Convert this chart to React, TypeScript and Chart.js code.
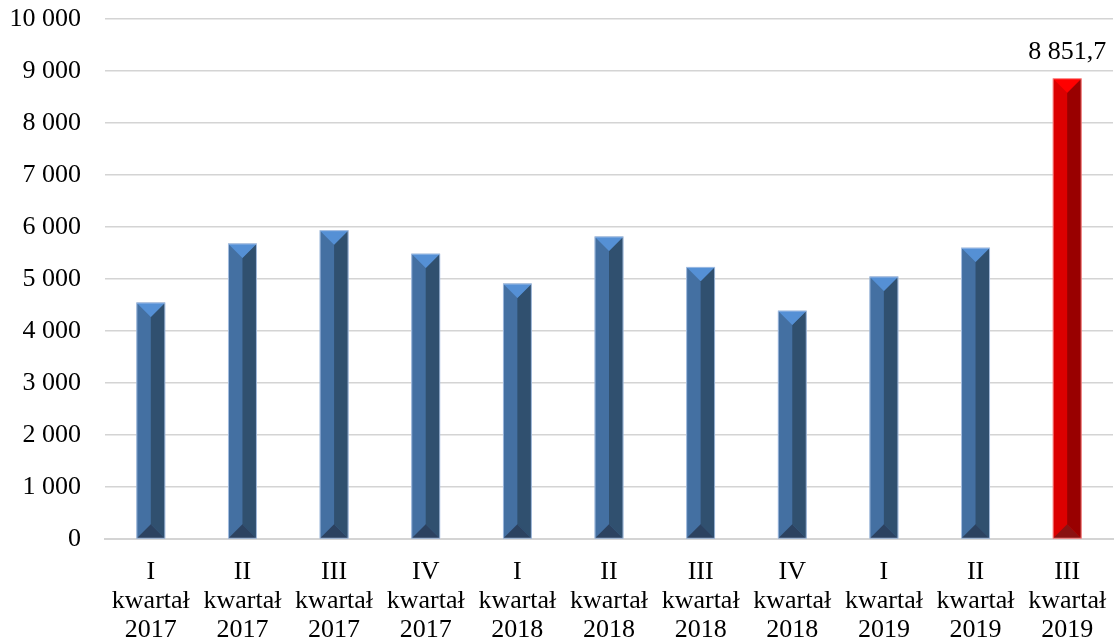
import React, { useEffect, useRef } from "react";
import { Chart, registerables } from "chart.js";

Chart.register(...registerables);

const quarters = ["I", "II", "III", "IV", "I", "II", "III", "IV", "I", "II", "III"];
const years = ["2017", "2017", "2017", "2017", "2018", "2018", "2018", "2018", "2019", "2019", "2019"];
const values = [4540, 5675, 5930, 5480, 4905, 5810, 5225, 4385, 5040, 5595, 8851.7];
const highlightIndex = 10;
const highlightLabel = "8 851,7";
const yTicks = [0, 1000, 2000, 3000, 4000, 5000, 6000, 7000, 8000, 9000, 10000];

const FONT = "'Liberation Serif', 'Times New Roman', serif";

const fmt = (v: number) => String(Math.round(v)).replace(/\B(?=(\d{3})+(?!\d))/g, " ");

const bevelPlugin = {
  id: "bevel",
  afterDatasetsDraw(chart: any) {
    const ctx = chart.ctx;
    const meta = chart.getDatasetMeta(0);
    meta.data.forEach((bar: any, i: number) => {
      const { x, y, base, width } = bar.getProps(["x", "y", "base", "width"], true);
      const l = x - width / 2;
      const r = x + width / 2;
      const d = width / 2;
      const red = i === highlightIndex;
      const cLeft = red ? "#dc0000" : "#4470a2";
      const cRight = red ? "#990000" : "#30506f";
      const cTop = red ? "#ff0000" : "#5590d5";
      const cBottom = red ? "#8a1212" : "#2c4260";
      const poly = (pts: number[][], color: string) => {
        ctx.beginPath();
        ctx.moveTo(pts[0][0], pts[0][1]);
        for (let k = 1; k < pts.length; k++) ctx.lineTo(pts[k][0], pts[k][1]);
        ctx.closePath();
        ctx.fillStyle = color;
        ctx.fill();
      };
      ctx.save();
      poly([[l, y], [x, y + d], [x, base - d], [l, base]], cLeft);
      poly([[r, y], [x, y + d], [x, base - d], [r, base]], cRight);
      poly([[l, y], [r, y], [x, y + d]], cTop);
      poly([[l, base], [r, base], [x, base - d]], cBottom);
      ctx.strokeStyle = red ? "rgba(255,170,170,0.8)" : "rgba(190,210,240,0.8)";
      ctx.lineWidth = 1;
      ctx.strokeRect(l, y, width, base - y);
      if (red) {
        ctx.fillStyle = "#000";
        ctx.font = `26px ${FONT}`;
        ctx.textAlign = "center";
        ctx.textBaseline = "bottom";
        ctx.fillText(highlightLabel, x, y - 14);
      }
      ctx.restore();
    });
  },
};

export default function App() {
  const ref = useRef<HTMLCanvasElement | null>(null);
  useEffect(() => {
    if (!ref.current) return;
    const chart = new Chart(ref.current, {
      type: "bar",
      data: {
        labels: quarters.map((q, i) => [q, "kwartał", years[i]]),
        datasets: [
          {
            data: values,
            backgroundColor: values.map((_, i) => (i === highlightIndex ? "#dc0000" : "#4470a2")),
            barThickness: 28,
          },
        ],
      },
      options: {
        responsive: false,
        animation: false,
        devicePixelRatio: 1,
        layout: { padding: { top: 19, right: 2, left: 0, bottom: 0 } },
        plugins: { legend: { display: false }, tooltip: { enabled: false } },
        scales: {
          x: {
            grid: { display: false, drawTicks: false },
            border: { display: true, color: "#d4d4d4", width: 2 },
            ticks: {
              color: "#000",
              font: { family: FONT, size: 26, lineHeight: 1.115 },
              padding: 19,
              maxRotation: 0,
              autoSkip: false,
            },
            afterFit: (s: any) => {
              s.height = 104;
              s.paddingLeft = 0;
              s.paddingRight = 0;
            },
          },
          y: {
            min: 0,
            max: 10000,
            afterBuildTicks: (s: any) => {
              s.ticks = yTicks.map((v) => ({ value: v }));
            },
            grid: { color: "#d4d4d4", lineWidth: 1.5, drawTicks: false },
            border: { display: false },
            ticks: {
              color: "#000",
              font: { family: FONT, size: 26 },
              padding: 24,
              callback: (v: any) => fmt(Number(v)),
            },
            afterFit: (s: any) => {
              s.width = 105;
              s.paddingTop = 0;
              s.paddingBottom = 0;
            },
          },
        },
      },
      plugins: [bevelPlugin],
    });
    return () => chart.destroy();
  }, []);
  return (
    <div style={{ position: "absolute", left: 0, top: 0, width: 1115, height: 643, background: "#fff" }}>
      <canvas ref={ref} width={1115} height={643} style={{ display: "block" }} />
    </div>
  );
}
